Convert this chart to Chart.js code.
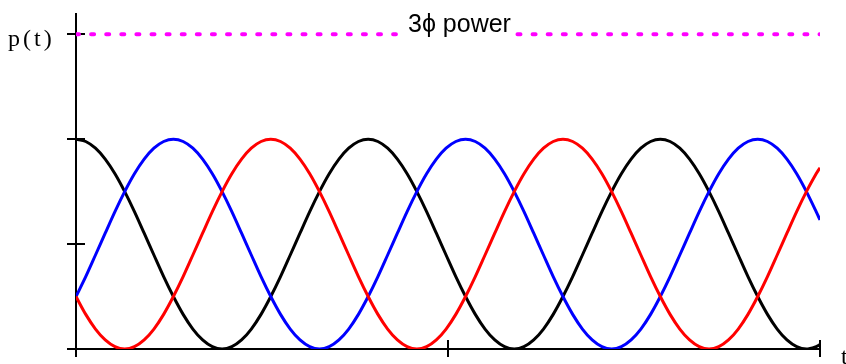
<!DOCTYPE html>
<html>
<head>
<meta charset="utf-8">
<script src="https://cdn.jsdelivr.net/npm/chart.js@4/dist/chart.umd.min.js"></script>
<style>
  html, body { margin: 0; padding: 0; background: #fff; }
  #c { display: block; }
</style>
</head>
<body>
<canvas id="c" width="846" height="364"></canvas>
<script>
// Phase angle ωt in degrees (sample points along the time axis)
const angleDeg = [0,6,12,18,24,30,36,42,48,54,60,66,72,78,84,90,96,102,108,114,120,126,132,138,144,150,156,162,168,174,
  180,186,192,198,204,210,216,222,228,234,240,246,252,258,264,270,276,282,288,294,300,306,312,318,324,330,336,342,348,354,
  360,366,372,378,384,390,396,402,408,414,420,426,432,438,444,450,456,458.37];

// Instantaneous power of phase a
const phaseA = [1,.989,.957,.905,.835,.75,.655,.552,.448,.345,.25,.165,.095,.043,.011,0,.011,.043,.095,.165,.25,.345,.448,.552,.655,.75,.835,.905,.957,.989,
  1,.989,.957,.905,.835,.75,.655,.552,.448,.345,.25,.165,.095,.043,.011,0,.011,.043,.095,.165,.25,.345,.448,.552,.655,.75,.835,.905,.957,.989,
  1,.989,.957,.905,.835,.75,.655,.552,.448,.345,.25,.165,.095,.043,.011,0,.011,.021];

// Instantaneous power of phase b
const phaseB = [.25,.345,.448,.552,.655,.75,.835,.905,.957,.989,
  1,.989,.957,.905,.835,.75,.655,.552,.448,.345,.25,.165,.095,.043,.011,0,.011,.043,.095,.165,.25,.345,.448,.552,.655,.75,.835,.905,.957,.989,
  1,.989,.957,.905,.835,.75,.655,.552,.448,.345,.25,.165,.095,.043,.011,0,.011,.043,.095,.165,.25,.345,.448,.552,.655,.75,.835,.905,.957,.989,
  1,.989,.957,.905,.835,.75,.655,.615];

// Instantaneous power of phase c
const phaseC = [.25,.165,.095,.043,.011,0,.011,.043,.095,.165,.25,.345,.448,.552,.655,.75,.835,.905,.957,.989,
  1,.989,.957,.905,.835,.75,.655,.552,.448,.345,.25,.165,.095,.043,.011,0,.011,.043,.095,.165,.25,.345,.448,.552,.655,.75,.835,.905,.957,.989,
  1,.989,.957,.905,.835,.75,.655,.552,.448,.345,.25,.165,.095,.043,.011,0,.011,.043,.095,.165,.25,.345,.448,.552,.655,.75,.835,.864];

// Total three-phase power (constant), broken where its label sits
const totalT = [0, 197.1, 197.1, 272.0, 458.37];
const totalP = [1.5, 1.5, null, 1.5, 1.5];

// Axis tick positions
const yTicks = [0, 0.5, 1, 1.5];
const xTicks = [0, 229.18, 458.37];

const pts = (xs, ys) => xs.map((x, i) => ({ x: x, y: ys[i] }));

const axesPlugin = {
  id: 'axes',
  beforeDatasetsDraw(chart) {
    const ctx = chart.ctx;
    const xs = chart.scales.x, ys = chart.scales.y;
    const x0 = xs.getPixelForValue(0);
    const y0 = ys.getPixelForValue(0);
    const xEnd = xs.getPixelForValue(xs.max);
    const yTop = ys.getPixelForValue(ys.max);
    ctx.save();
    ctx.strokeStyle = '#000';
    ctx.lineWidth = 2;
    ctx.beginPath();
    ctx.moveTo(x0, yTop); ctx.lineTo(x0, y0);
    ctx.moveTo(x0, y0); ctx.lineTo(xEnd, y0);
    yTicks.forEach(v => {
      const y = Math.round(ys.getPixelForValue(v));
      ctx.moveTo(x0 - 9, y); ctx.lineTo(x0 + (v === 0 ? 0 : 9), y);
    });
    xTicks.forEach(v => {
      const x = Math.round(xs.getPixelForValue(v));
      ctx.moveTo(x, y0 - 9); ctx.lineTo(x, y0 + 8);
    });
    ctx.stroke();
    ctx.restore();
  },
  afterDraw(chart) {
    const ctx = chart.ctx;
    ctx.save();
    ctx.fillStyle = '#000';
    ctx.textBaseline = 'alphabetic';
    ctx.font = '24px "Liberation Serif", "Times New Roman", serif';
    ctx.letterSpacing = '3px';
    ctx.fillText('p(t)', 8, 46);
    ctx.letterSpacing = '0px';
    ctx.fillText('t', 841, 364);
    ctx.font = '25px "Liberation Sans", Arial, sans-serif';
    ctx.fillText('3\u03D5 power', 408, 32);
    ctx.restore();
  }
};

new Chart(document.getElementById('c'), {
  type: 'line',
  data: {
    datasets: [
      { data: pts(angleDeg, phaseC), borderColor: '#ff0000', borderWidth: 3, order: 0 },
      { data: pts(angleDeg, phaseB), borderColor: '#0000ff', borderWidth: 3, order: 1 },
      { data: pts(angleDeg, phaseA), borderColor: '#000000', borderWidth: 3, order: 2 },
      { data: pts(totalT, totalP), borderColor: '#ff00ff', borderWidth: 4,
        borderDash: [3, 12.1], borderCapStyle: 'round', tension: 0, spanGaps: false, order: 3 }
    ]
  },
  options: {
    responsive: false,
    animation: false,
    devicePixelRatio: 1,
    layout: { padding: { left: 76, right: 26, top: 13, bottom: 15 } },
    elements: { point: { radius: 0 }, line: { tension: 0.3, fill: false } },
    plugins: { legend: { display: false }, tooltip: { enabled: false }, title: { display: false } },
    scales: {
      x: { type: 'linear', min: 0, max: 458.37, display: false },
      y: { type: 'linear', min: 0, max: 1.6015, display: false }
    }
  },
  plugins: [axesPlugin]
});
</script>
</body>
</html>
